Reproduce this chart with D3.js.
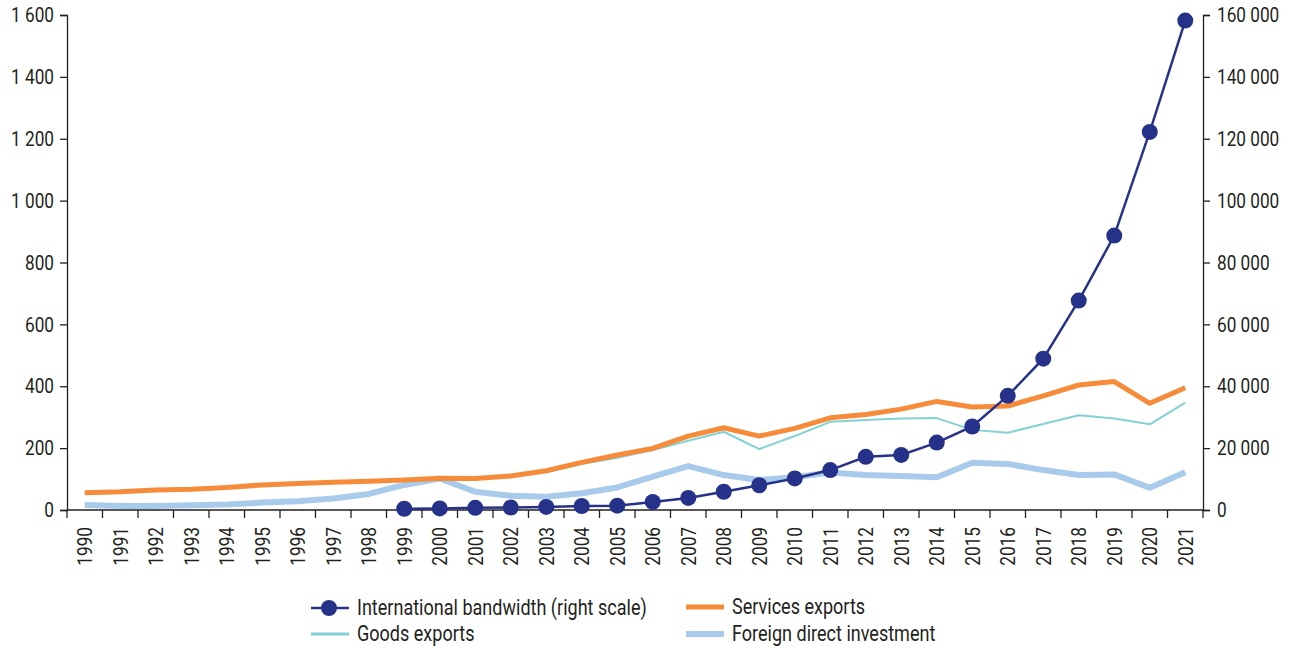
<!DOCTYPE html>
<html><head><meta charset="utf-8">
<script src="https://cdn.jsdelivr.net/npm/d3@7"></script>
<style>
body{margin:0;background:#fff;}
text{font-family:Roboto,"Noto Sans",sans-serif;fill:#231f20;}
</style></head><body>
<svg id="c" width="1295" height="648"></svg>
<script>
const years = d3.range(1990, 2022).map(String);
const services = [56,59,65,67,73,81,86,90,93,97,103,102,110,127,154,178,199,239,266,239,264,298,309,326,351,333,336,369,404,415,345,395];
const goods = [54,57,63,65,71,79,84,88,91,95,101,99,108,122,149,169,194,224,253,197,239,285,291,296,297,259,250,278,306,296,277,347];
const fdi = [16,13,13,15,18,24,28,37,52,81,102,59,46,43,54,73,108,142,113,97,106,121,113,110,106,153,149,129,113,115,72,122];
const bwYears = d3.range(1999, 2022).map(String);
const bandwidth = [400,500,700,800,1000,1300,1400,2600,3900,5900,8000,10200,12900,17200,17800,21800,27000,36900,48900,67700,88700,122200,158200];
const leftTicks = [0,200,400,600,800,1000,1200,1400,1600];
const rightTicks = [0,20000,40000,60000,80000,100000,120000,140000,160000];
const legendItems = [
  {name:"International bandwidth (right scale)", key:"bw"},
  {name:"Services exports", key:"services"},
  {name:"Goods exports", key:"goods"},
  {name:"Foreign direct investment", key:"fdi"}
];
const colors = {bw:"#263289", services:"#f68b3a", goods:"#82d2d5", fdi:"#a9cbeb"};
const widths = {bw:2.5, services:5, goods:2, fdi:6};

const SX = 0.82, FS = 21, LFS = 22;
const svg = d3.select("#c");
const x0 = 67, x1 = 1203, yTop = 15, yBot = 510;
const x = d3.scaleBand().domain(years).range([x0, x1]);
const yL = d3.scaleLinear().domain([0,1600]).range([yBot, yTop]);
const yR = d3.scaleLinear().domain([0,160000]).range([yBot, yTop]);
const loc = d3.formatLocale({decimal:".", thousands:" ", grouping:[3], currency:["",""]});
const fmt = loc.format(",");

// axes
const gl = svg.append("g").attr("transform",`translate(${x0},0)`)
  .call(d3.axisLeft(yL).tickValues(leftTicks).tickSize(7).tickPadding(6).tickFormat(fmt));
const gr = svg.append("g").attr("transform",`translate(${x1},0)`)
  .call(d3.axisRight(yR).tickValues(rightTicks).tickSize(7).tickPadding(7).tickFormat(fmt));
[gl,gr].forEach(g=>{
  g.select(".domain").attr("stroke","#231f20").attr("stroke-width",1.3);
  g.selectAll(".tick line").attr("stroke","#231f20").attr("stroke-width",1.3);
  g.selectAll(".tick text").attr("font-size",FS).attr("fill","#231f20")
    .attr("x",function(){return +d3.select(this).attr("x")/SX;})
    .attr("transform",`scale(${SX},1)`);
});
// x axis
const gx = svg.append("g").attr("transform",`translate(0,${yBot})`);
gx.append("line").attr("x1",x0).attr("x2",x1).attr("stroke","#231f20").attr("stroke-width",1.3);
const bounds = years.map(d=>x(d)).concat([x1]);
gx.selectAll("line.tk").data(bounds).join("line").attr("class","tk")
  .attr("x1",d=>d).attr("x2",d=>d).attr("y1",0).attr("y2",8).attr("stroke","#231f20").attr("stroke-width",1.3);
gx.selectAll("text").data(years).join("text")
  .attr("transform",d=>`translate(${x(d)+x.bandwidth()/2+7.5},17) rotate(-90) scale(${SX},1)`)
  .attr("text-anchor","end").attr("font-size",FS).text(d=>d);

const cx = d => x(d)+x.bandwidth()/2;
function drawSeries(key, arr){
  svg.append("path").attr("d", d3.line().x((d,i)=>cx(years[i])).y(d=>yL(d))(arr))
    .attr("fill","none").attr("stroke",colors[key]).attr("stroke-width",widths[key]).attr("stroke-linejoin","round");
}
drawSeries("fdi", fdi);
drawSeries("goods", goods);
drawSeries("services", services);
svg.append("path").attr("d", d3.line().x((d,i)=>cx(bwYears[i])).y(d=>yR(d))(bandwidth))
  .attr("fill","none").attr("stroke",colors.bw).attr("stroke-width",widths.bw);
svg.selectAll("circle.bw").data(bandwidth).join("circle").attr("class","bw")
  .attr("cx",(d,i)=>cx(bwYears[i])).attr("cy",d=>yR(d)).attr("r",8).attr("fill",colors.bw);

// legend
const lpos = [[311,608],[686,607],[311,634],[686,634]];
legendItems.forEach((it,i)=>{
  const [lx,ly] = lpos[i];
  const g = svg.append("g").attr("transform",`translate(${lx},${ly})`);
  const w = 38;
  g.append("line").attr("x1",0).attr("x2",w).attr("y1",0).attr("y2",0)
    .attr("stroke",colors[it.key]).attr("stroke-width",it.key==="bw"?2.5:(it.key==="goods"?3:widths[it.key]));
  if(it.key==="bw") g.append("circle").attr("cx",18).attr("cy",0).attr("r",8).attr("fill",colors.bw);
  g.append("text").attr("transform",`translate(${w+8},7) scale(${SX},1)`).attr("font-size",LFS).text(it.name);
});
</script></body></html>
